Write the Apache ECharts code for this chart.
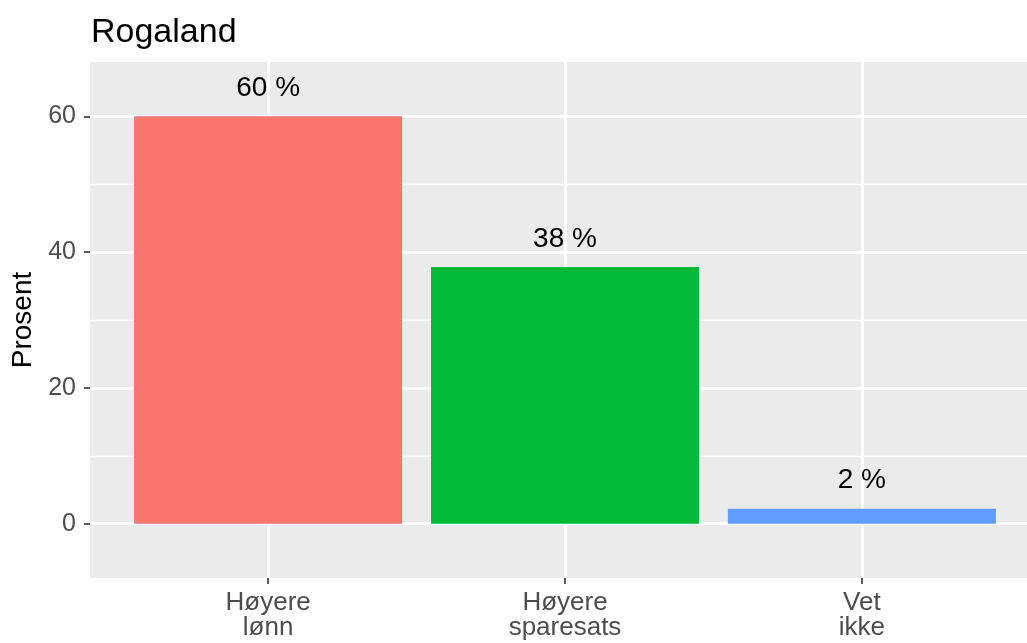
<!DOCTYPE html>
<html>
<head>
<meta charset="utf-8">
<script src="https://cdn.jsdelivr.net/npm/echarts@6/dist/echarts.min.js"></script>
<style>
  html, body { margin: 0; padding: 0; background: #fff; overflow: hidden; }
  #main { width: 1040px; height: 643px; }
</style>
</head>
<body>
<div id="main"></div>
<script>
// data
var categories = ["Høyere\nlønn", "Høyere\nsparesats", "Vet\nikke"];
var catPos = [1, 2, 3];
var values = [60, 37.8, 2.2];
var valueLabels = ["60 %", "38 %", "2 %"];
var barColors = ["#F8766D", "#00BA38", "#619CFF"];
var yTicks = [0, 20, 40, 60];
var yMinor = [10, 30, 50];

var myChart = echarts.init(document.getElementById("main"));

var barData = values.map(function (v, i) {
  return {
    value: [catPos[i], v],
    itemStyle: { color: barColors[i] },
    label: { formatter: valueLabels[i] }
  };
});

var option = {
  backgroundColor: "#ffffff",
  animation: false,
  textStyle: { fontFamily: "Liberation Sans, Arial, sans-serif" },
  title: {
    text: "Rogaland",
    left: 91,
    top: 16,
    padding: 0,
    textStyle: { fontSize: 34, fontWeight: "normal", color: "#000" }
  },
  grid: {
    left: 90,
    top: 62,
    width: 950,
    height: 516,
    show: true,
    backgroundColor: "#EBEBEB",
    borderWidth: 0
  },
  xAxis: {
    type: "value",
    min: 0.4,
    max: 3.6,
    axisLine: { show: false, onZero: false },
    axisTick: {
      show: true,
      customValues: catPos,
      length: 6,
      lineStyle: { color: "#333333", width: 1.6 }
    },
    axisLabel: {
      customValues: catPos,
      margin: 12,
      fontSize: 26,
      lineHeight: 25,
      color: "#4D4D4D",
      formatter: function (v) {
        return categories[Math.round(v) - 1];
      }
    },
    splitLine: { show: true, lineStyle: { color: "#ffffff", width: 2.8 } }
  },
  yAxis: {
    type: "value",
    min: -8,
    max: 68,
    name: "Prosent",
    nameLocation: "middle",
    nameGap: 51,
    nameTextStyle: { fontSize: 28, color: "#000" },
    axisLine: { show: false },
    axisTick: {
      show: true,
      customValues: yTicks,
      length: 6,
      lineStyle: { color: "#333333", width: 1.6 }
    },
    axisLabel: {
      customValues: yTicks,
      margin: 14,
      fontSize: 25,
      color: "#4D4D4D"
    },
    splitLine: { show: true, lineStyle: { color: "#ffffff", width: 2.8 } }
  },
  series: [
    {
      type: "scatter",
      data: [],
      z: 1,
      silent: true,
      markLine: {
        silent: true,
        z: 1,
        symbol: "none",
        label: { show: false },
        lineStyle: { color: "#ffffff", width: 1.4, type: "solid" },
        data: yMinor.map(function (v) { return { yAxis: v }; })
      }
    },
    {
      type: "bar",
      z: 3,
      barWidth: 268,
      data: barData,
      label: {
        show: true,
        position: "top",
        distance: 14,
        fontSize: 28,
        color: "#000"
      }
    }
  ]
};

myChart.setOption(option);
</script>
</body>
</html>
